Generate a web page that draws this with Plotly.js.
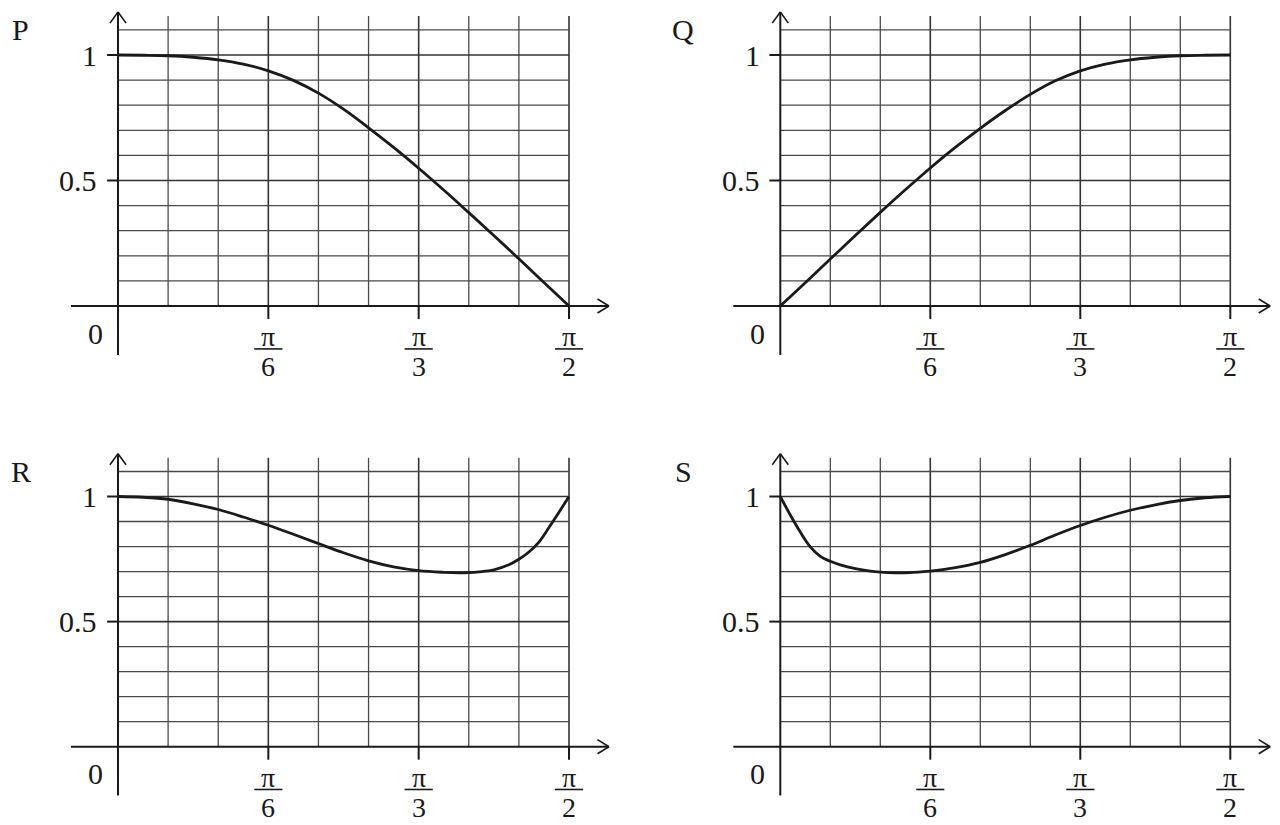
<!DOCTYPE html>
<html>
<head>
<meta charset="utf-8">
<script src="https://cdn.plot.ly/plotly-3.0.1.min.js"></script>
<style>
  html, body { margin: 0; padding: 0; background: #fff; }
  #chart { width: 1280px; height: 825px; }
</style>
</head>
<body>
<div id="chart"></div>
<script>
// ---------- data (angles in degrees) ----------
const panelLabels = ['P', 'Q', 'R', 'S'];

const pAngles = [0, 5, 10, 15, 20, 25, 30, 35, 40, 45, 50, 55, 60, 65, 70, 75, 80, 85, 90];
const pValues = [1.0, 0.999, 0.997, 0.991, 0.981, 0.964, 0.937, 0.899, 0.848, 0.784, 0.710, 0.632, 0.549, 0.462, 0.372, 0.281, 0.188, 0.094, 0.0];

const qAngles = [0, 5, 10, 15, 20, 25, 30, 35, 40, 45, 50, 55, 60, 65, 70, 75, 80, 85, 90];
const qValues = [0.0, 0.093, 0.187, 0.281, 0.373, 0.463, 0.550, 0.632, 0.708, 0.779, 0.843, 0.897, 0.937, 0.964, 0.981, 0.991, 0.997, 0.999, 1.0];

const rAngles = [0, 5, 10, 15, 20, 25, 30, 35, 40, 45, 50, 55, 60, 65, 68, 70, 72, 75, 78, 80, 82, 84, 86, 88, 90];
const rValues = [1.0, 0.997, 0.989, 0.971, 0.948, 0.918, 0.885, 0.849, 0.812, 0.775, 0.743, 0.719, 0.704, 0.697, 0.695, 0.696, 0.699, 0.707, 0.727, 0.749, 0.778, 0.818, 0.876, 0.937, 1.0];

const sAngles = [0, 2, 4, 6, 8, 10, 12, 15, 18, 20, 23, 25, 30, 35, 40, 45, 50, 55, 60, 65, 70, 75, 80, 85, 90];
const sValues = [1.0, 0.926, 0.858, 0.799, 0.761, 0.741, 0.727, 0.712, 0.702, 0.698, 0.695, 0.695, 0.702, 0.716, 0.737, 0.768, 0.805, 0.846, 0.884, 0.917, 0.945, 0.967, 0.984, 0.995, 1.0];

// axis ticks / grid
const xTickDenoms = [6, 3, 2];              // pi/6, pi/3, pi/2
const yTickValues = [0.5, 1];
const yTickLabels = ['0.5', '1'];
const xGridDeg = [10, 20, 30, 40, 50, 60, 70, 80, 90];
const yGrid = [0.1, 0.2, 0.3, 0.4, 0.5, 0.6, 0.7, 0.8, 0.9, 1.0, 1.1];

// ---------- build ----------
const RAD = Math.PI / 180;
const XMAX = Math.PI / 2;
const SERIF = 'Liberation Serif, Times New Roman, Times, serif';
const INK = '#1a1a1a';
const GRID = '#4a4a4a';

const panels = [
  { label: panelLabels[0], ang: pAngles, val: pValues, xa: 'x',  ya: 'y'  },
  { label: panelLabels[1], ang: qAngles, val: qValues, xa: 'x2', ya: 'y2' },
  { label: panelLabels[2], ang: rAngles, val: rValues, xa: 'x3', ya: 'y3' },
  { label: panelLabels[3], ang: sAngles, val: sValues, xa: 'x4', ya: 'y4' },
];

const traces = panels.map(p => ({
  type: 'scatter', mode: 'lines',
  x: p.ang.map(a => a * RAD), y: p.val,
  xaxis: p.xa, yaxis: p.ya,
  line: { color: INK, width: 2.8, shape: 'spline', smoothing: 1 },
  hoverinfo: 'skip', showlegend: false,
}));

const shapes = [];
const annotations = [];

function line(p, x0, y0, x1, y1, color, width) {
  shapes.push({ type: 'line', xref: p.xa, yref: p.ya, x0, y0, x1, y1,
    line: { color, width }, layer: 'below' });
}
function text(p, x, y, t, xanchor, size) {
  annotations.push({ xref: p.xa, yref: p.ya, x, y, text: t, showarrow: false,
    xanchor: xanchor || 'center', yanchor: 'middle',
    font: { family: SERIF, size: size || 30, color: INK } });
}

const yTop = 1.155;          // top of vertical grid lines
const axisTop = 1.171;       // y-axis arrow tip
const axisBottom = -0.195;
const axisLeft = -0.164;
const axisRight = 1.71;

panels.forEach(p => {
  // grid
  xGridDeg.forEach(d => {
    const major = d % 30 === 0;
    line(p, d * RAD, 0, d * RAD, yTop, major ? '#333' : GRID, major ? 1.6 : 1.3);
  });
  yGrid.forEach(v => {
    const major = Math.abs(v - 0.5) < 1e-9 || Math.abs(v - 1) < 1e-9;
    line(p, 0, v, XMAX, v, major ? '#333' : GRID, major ? 1.6 : 1.3);
  });
  // axes
  line(p, axisLeft, 0, axisRight, 0, INK, 2);
  line(p, 0, axisBottom, 0, axisTop, INK, 2);
  // arrows (open chevrons)
  line(p, axisRight, 0, axisRight - 0.040, 0.028, INK, 1.6);
  line(p, axisRight, 0, axisRight - 0.040, -0.028, INK, 1.6);
  line(p, 0, axisTop, -0.028, axisTop - 0.044, INK, 1.6);
  line(p, 0, axisTop, 0.028, axisTop - 0.044, INK, 1.6);
  // y ticks + labels
  yTickValues.forEach((v, i) => {
    line(p, -0.038, v, 0, v, INK, 2);
    text(p, -0.065, v, yTickLabels[i], 'right');
  });
  text(p, -0.045, -0.108, '0', 'right');
  // x ticks + fraction labels
  xTickDenoms.forEach(d => {
    const xv = Math.PI / d;
    line(p, xv, 0, xv, -0.052, INK, 2);
    text(p, xv, -0.123, 'π', 'center', 28);
    text(p, xv, -0.243, String(d), 'center', 28);
    line(p, xv - 0.049, -0.171, xv + 0.049, -0.171, INK, 1.6);
  });
  // panel letter
  text(p, -0.338, 1.10, p.label);
});

// domains: left column origin at px 118, right column origin at px 780
function xAxis(domPx, originPx, endPx) {
  const k = (endPx - originPx) / XMAX;
  return { domain: [domPx[0] / 1280, domPx[1] / 1280],
    range: [(domPx[0] - originPx) / k, (domPx[1] - originPx) / k],
    visible: false, fixedrange: true };
}
function yAxis(domPx, zeroPx, onePx) {
  const k = zeroPx - onePx;
  return { domain: [1 - domPx[1] / 825, 1 - domPx[0] / 825],
    range: [(zeroPx - domPx[1]) / k, (zeroPx - domPx[0]) / k],
    visible: false, fixedrange: true };
}

const layout = {
  width: 1280, height: 825,
  margin: { l: 0, r: 0, t: 0, b: 0 },
  paper_bgcolor: '#fff', plot_bgcolor: 'rgba(0,0,0,0)',
  showlegend: false,
  xaxis:  Object.assign(xAxis([0, 630], 118, 569),   { anchor: 'y'  }),
  yaxis:  Object.assign(yAxis([2, 390], 306, 55),    { anchor: 'x'  }),
  xaxis2: Object.assign(xAxis([650, 1280], 780.3, 1230.3), { anchor: 'y2' }),
  yaxis2: Object.assign(yAxis([2, 390], 306, 55),    { anchor: 'x2' }),
  xaxis3: Object.assign(xAxis([0, 630], 118, 569),   { anchor: 'y3' }),
  yaxis3: Object.assign(yAxis([440, 823], 746.7, 496.5), { anchor: 'x3' }),
  xaxis4: Object.assign(xAxis([650, 1280], 780.3, 1230.3), { anchor: 'y4' }),
  yaxis4: Object.assign(yAxis([440, 823], 746.7, 496.5), { anchor: 'x4' }),
  shapes, annotations,
};

Plotly.newPlot('chart', traces, layout, { staticPlot: true, displayModeBar: false });
</script>
</body>
</html>
